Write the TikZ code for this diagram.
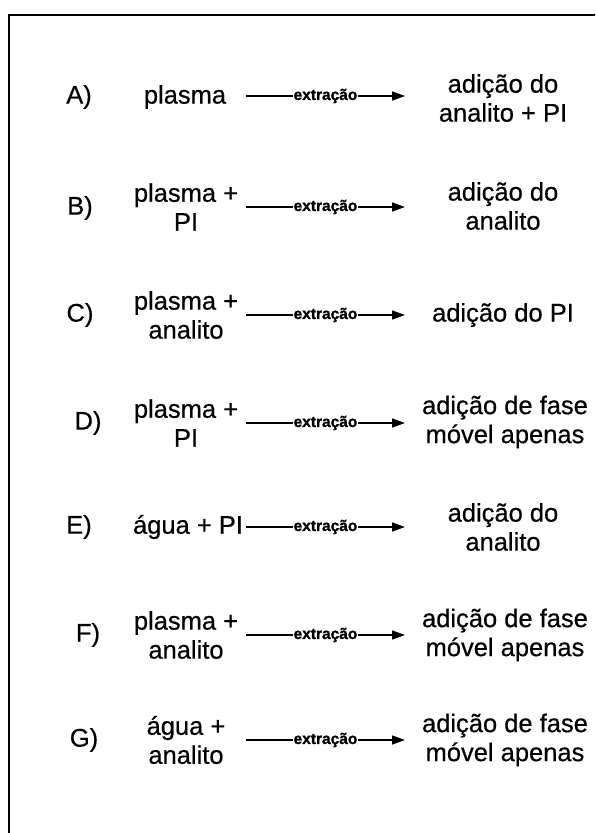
\documentclass[tikz,border=0pt]{standalone}
\usepackage{fontspec}
\setmainfont{Liberation Sans}[FakeBold=0.5]
\newfontface\extfont{Liberation Sans Bold}[FakeBold=1.2]
\usetikzlibrary{arrows.meta}
\begin{document}
\begin{tikzpicture}[x=1pt,y=-1pt,
  txt/.style={font=\fontsize{25.5}{29}\selectfont, align=center, inner sep=0pt},
  lbl/.style={font=\fontsize{25.5}{29}\selectfont, inner sep=0pt},
  arr/.style={line width=1.5pt, -{Triangle[length=13pt,width=9pt]}},
  ext/.style={font=\extfont\fontsize{15.5}{15.5}\selectfont, fill=white, inner sep=0.5pt}]
\useasboundingbox (0,0) rectangle (595,833);
\clip (0,0) rectangle (595,833);
\fill[white] (0,0) rectangle (595,833);
\draw[line width=1.6pt] (9,900) -- (9,15) -- (620,15);
% A
\node[lbl] (la) at (79,97) {A)};
\node[txt] (sa) at (185,97) {plasma};
\node[txt] (ra) at (503,98) {adição do\\analito + PI};
\coordinate (a1) at (246,96); \coordinate (a2) at (405,96);
\draw[arr] (a1) -- (a2) node[ext, pos=0.5] (ea) {extração};
% B
\node[lbl] (lb) at (80,208) {B)};
\node[txt] (sb) at (186,207) {plasma +\\PI};
\node[txt] (rb) at (503,206) {adição do\\analito};
\coordinate (b1) at (246,207); \coordinate (b2) at (405,207);
\draw[arr] (b1) -- (b2) node[ext, pos=0.5] (eb) {extração};
% C
\node[lbl] (lc) at (80,315) {C)};
\node[txt] (sc) at (186,315) {plasma +\\analito};
\node[txt] (rc) at (503,315) {adição do PI};
\coordinate (c1) at (246,315); \coordinate (c2) at (405,315);
\draw[arr] (c1) -- (c2) node[ext, pos=0.5] (ec) {extração};
% D
\node[lbl] (ld) at (88,423) {D)};
\node[txt] (sd) at (186,423) {plasma +\\PI};
\node[txt] (rd) at (505,422) {adição de fase\\móvel apenas};
\coordinate (d1) at (246,423); \coordinate (d2) at (405,423);
\draw[arr] (d1) -- (d2) node[ext, pos=0.5] (ed) {extração};
% E
\node[lbl] (le) at (79,527) {E)};
\node[txt] (se) at (188,527) {água + PI};
\node[txt] (re) at (503,527) {adição do\\analito};
\coordinate (e1) at (246,527); \coordinate (e2) at (405,527);
\draw[arr] (e1) -- (e2) node[ext, pos=0.5] (ee) {extração};
% F
\node[lbl] (lf) at (88,635) {F)};
\node[txt] (sf) at (186,635) {plasma +\\analito};
\node[txt] (rf) at (505,635) {adição de fase\\móvel apenas};
\coordinate (f1) at (246,635); \coordinate (f2) at (405,635);
\draw[arr] (f1) -- (f2) node[ext, pos=0.5] (ef) {extração};
% G
\node[lbl] (lg) at (84,740) {G)};
\node[txt] (sg) at (186,740) {água +\\analito};
\node[txt] (rg) at (505,740) {adição de fase\\móvel apenas};
\coordinate (g1) at (246,740); \coordinate (g2) at (405,740);
\draw[arr] (g1) -- (g2) node[ext, pos=0.5] (eg) {extração};
\end{tikzpicture}
\end{document}
